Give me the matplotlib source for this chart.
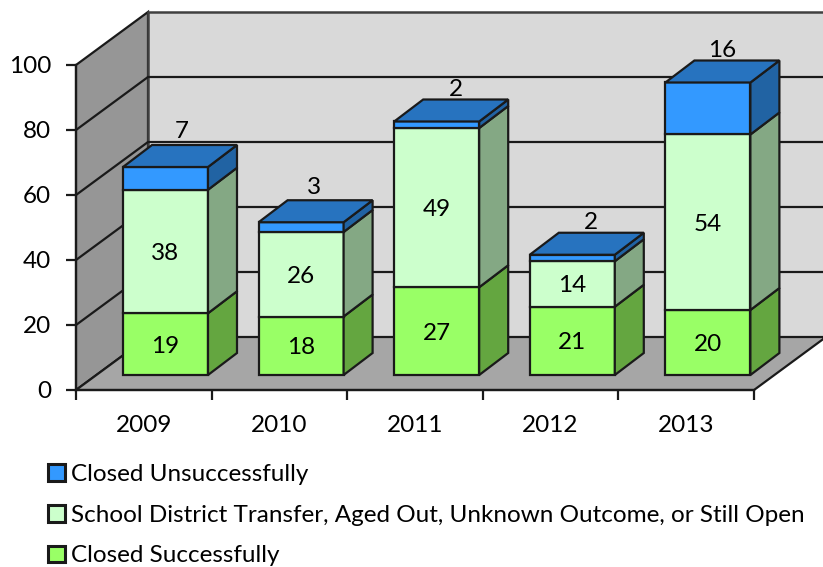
import matplotlib
matplotlib.use("Agg")
import matplotlib.pyplot as plt
from matplotlib.patches import Polygon, Patch

plt.rcParams['font.family'] = ['Lato', 'DejaVu Sans']

years = ['2009', '2010', '2011', '2012', '2013']
closed_ok = [19, 18, 27, 21, 20]
other = [38, 26, 49, 14, 54]
closed_bad = [7, 3, 2, 2, 16]
yticks = [0, 20, 40, 60, 80, 100]

names = ['Closed Successfully',
         'School District Transfer, Aged Out, Unknown Outcome, or Still Open',
         'Closed Unsuccessfully']
series = [closed_ok, other, closed_bad]
front_cols = ['#99FF66', '#CCFFCC', '#3399FF']
side_cols = ['#64A640', '#84A884', '#2163A3']
top_col = '#2773BF'

W, H = 823, 567
X0, Y0 = 76, 390      # pixel of the origin
PX_CAT = 135.6        # pixels per category
PX_VAL = 3.25         # pixels per unit
DX = 72 / PX_CAT      # depth of the box
DY = 53 / PX_VAL
BDX = 29 / PX_CAT     # depth of a bar
BDY = 22 / PX_VAL
BAR_W = 85 / PX_CAT
BAR_X = 47 / PX_CAT   # bar left edge inside its category
BAR_Y = 15 / PX_VAL   # bars sit a little back on the floor
FS = 17.5

fig = plt.figure(figsize=(W / 100, H / 100), dpi=100)
ax = fig.add_axes([0, 0, 1, 1])
ax.set_xlim(-X0 / PX_CAT, (W - X0) / PX_CAT)
ax.set_ylim((Y0 - H) / PX_VAL, Y0 / PX_VAL)
ax.patch.set_visible(False)


def poly(pts, col, lw=1.6, ec='#1a1a1a', z=2):
    ax.add_patch(Polygon(pts, closed=True, fc=col, ec=ec, lw=lw, zorder=z,
                         joinstyle='miter'))


n = len(years)
top = yticks[-1]

# walls and floor
poly([(0, 0), (DX, DY), (DX, top + DY), (0, top)], '#969696', z=1)
poly([(DX, DY), (n + DX, DY), (n + DX, top + DY), (DX, top + DY)], '#D9D9D9', lw=1.8, ec='#404040', z=1)
poly([(0, 0), (DX, DY), (n + DX, DY), (n, 0)], '#A6A6A6', z=1.5)
for v in yticks[1:-1]:
    ax.plot([0, DX, n + DX], [v, v + DY, v + DY], color='#1a1a1a', lw=1.6, zorder=1.2,
            solid_joinstyle='miter')

# stacked boxes
label_dx = [16, 13, 19, 19, 14]
label_up = [35, 35, 32, 32, 32]
for i in range(n):
    x0 = i + BAR_X
    x1 = x0 + BAR_W
    base = BAR_Y
    for k, vals in enumerate(series):
        h = vals[i]
        ax.bar(x0, h, BAR_W, bottom=base, align='edge', color=front_cols[k],
               edgecolor='#1a1a1a', lw=1.6, zorder=3)
        poly([(x1, base), (x1 + BDX, base + BDY), (x1 + BDX, base + h + BDY), (x1, base + h)],
             side_cols[k], z=3)
        if k < 2:
            ax.annotate(str(h), (x0 + BAR_W / 2, base + h / 2), xytext=(0, -2),
                        textcoords='offset pixels', ha='center', va='center',
                        fontsize=FS, zorder=6)
        base += h
    poly([(x0, base), (x1, base), (x1 + BDX, base + BDY), (x0 + BDX, base + BDY)], top_col, z=3)
    ax.annotate(str(closed_bad[i]), (x0 + BAR_W / 2, base), xytext=(label_dx[i], label_up[i]),
                textcoords='offset pixels', ha='center', va='center', fontsize=FS, zorder=6)

# axes
for s in ['top', 'right']:
    ax.spines[s].set_visible(False)
ax.spines['left'].set_position(('data', 0))
ax.spines['bottom'].set_position(('data', 0))
ax.spines['left'].set_bounds(0, top)
ax.spines['bottom'].set_bounds(0, n)
for s in ['left', 'bottom']:
    ax.spines[s].set_color('#1a1a1a')
    ax.spines[s].set_linewidth(1.6)
    ax.spines[s].set_zorder(2.5)
ax.set_yticks(yticks)
ax.set_xticks(range(n + 1))
ax.set_xticklabels([])
ax.tick_params(axis='both', direction='out', length=7, width=1.6, color='#1a1a1a',
               labelsize=FS, pad=11)
for i, y in enumerate(years):
    ax.annotate(y, (i + 0.5, 0), xytext=(0, -36), textcoords='offset pixels',
                ha='center', va='center', fontsize=FS)

handles = [Patch(fc=front_cols[k], ec='#1a1a1a', lw=2.2) for k in [2, 1, 0]]
ax.legend(handles, [names[k] for k in [2, 1, 0]], loc='upper left',
          bbox_to_anchor=(48 / W, 1 - 464 / H), bbox_transform=fig.transFigure,
          frameon=False, fontsize=FS, handlelength=0.68, handleheight=0.68,
          handletextpad=0.27, labelspacing=0.81, borderpad=0, borderaxespad=0)

fig.savefig('out.png', dpi=100)
